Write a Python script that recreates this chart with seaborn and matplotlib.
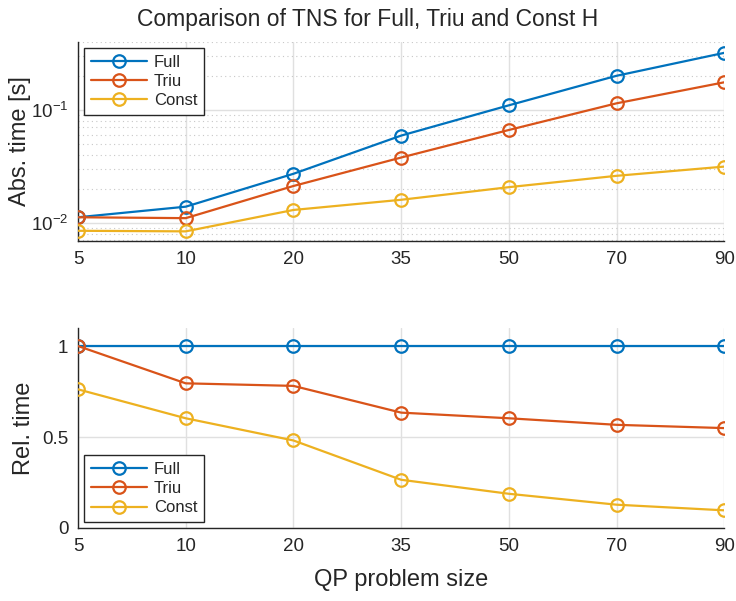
import numpy as np
import pandas as pd
import matplotlib
matplotlib.use("Agg")
import matplotlib.pyplot as plt
import seaborn as sns
from matplotlib.ticker import LogLocator, FixedLocator, NullFormatter

# QP problem sizes (categorical x axis)
sizes = ["5", "10", "20", "35", "50", "70", "90"]
methods = ["Full", "Triu", "Const"]

# absolute solve times [s]
abs_full = [0.0112, 0.0139, 0.0272, 0.0593, 0.110, 0.201, 0.321]
abs_triu = [0.0112, 0.0110, 0.0212, 0.0379, 0.0665, 0.1146, 0.176]
abs_const = [0.0085, 0.0084, 0.0130, 0.0160, 0.0207, 0.0261, 0.0315]

# times relative to the full Hessian
rel_full = [1.0, 1.0, 1.0, 1.0, 1.0, 1.0, 1.0]
rel_triu = [1.0, 0.795, 0.781, 0.634, 0.603, 0.567, 0.549]
rel_const = [0.762, 0.603, 0.481, 0.265, 0.188, 0.128, 0.097]

colors = ["#0072BD", "#D95319", "#EDB120"]
ink = "#262626"

sns.set_theme(style="white")
plt.rcParams["font.family"] = ["Liberation Sans", "DejaVu Sans"]
plt.rcParams["mathtext.fontset"] = "custom"
plt.rcParams["mathtext.rm"] = "Liberation Sans"
plt.rcParams["mathtext.it"] = "Liberation Sans:italic"
plt.rcParams["mathtext.bf"] = "Liberation Sans:bold"


def long_frame(series):
    rows = []
    for name, vals in zip(methods, series):
        for i, v in enumerate(vals):
            rows.append({"pos": i, "size": sizes[i], "method": name, "value": v})
    return pd.DataFrame(rows)


df_abs = long_frame([abs_full, abs_triu, abs_const])
df_rel = long_frame([rel_full, rel_triu, rel_const])

fig = plt.figure(figsize=(7.36, 6.01), dpi=100)
ax1 = fig.add_axes([0.106, 0.599, 0.878, 0.331])
ax2 = fig.add_axes([0.106, 0.1215, 0.878, 0.333])


def draw(ax, df):
    for name, c in zip(methods, colors):
        sub = df[df["method"] == name]
        sns.lineplot(data=sub, x="pos", y="value", ax=ax, color=c, label=name,
                     linewidth=1.6, marker="o", markersize=9,
                     markerfacecolor="none", markeredgecolor=c,
                     markeredgewidth=1.6, zorder=3)


def style(ax):
    ax.set_xlim(0, len(sizes) - 1)
    ax.xaxis.set_major_locator(FixedLocator(range(len(sizes))))
    ax.set_xticklabels(sizes)
    ax.set_xlabel("")
    for s in ["top", "right"]:
        ax.spines[s].set_visible(False)
    for s in ["left", "bottom"]:
        ax.spines[s].set_color(ink)
        ax.spines[s].set_linewidth(1.0)
    ax.tick_params(axis="both", which="both", direction="in", colors=ink,
                   labelsize=13.5, labelcolor=ink)
    ax.tick_params(axis="both", which="major", length=5, width=0.8, pad=7)
    ax.tick_params(axis="y", which="minor", length=3, width=0.6)
    ax.grid(True, which="major", color="#e0e0e0", linewidth=1.0, linestyle="-")
    ax.set_axisbelow(True)


def add_legend(ax, loc):
    leg = ax.legend(loc=loc, fontsize=12, frameon=True, fancybox=False,
                    framealpha=1, edgecolor=ink, handlelength=3.4,
                    borderaxespad=0.35, labelspacing=0.25, borderpad=0.4,
                    handletextpad=0.4)
    leg.get_frame().set_linewidth(1.0)
    for t in leg.get_texts():
        t.set_color(ink)


draw(ax1, df_abs)
ax1.set_yscale("log")
ax1.set_ylim(0.0069, 0.4)
style(ax1)
ax1.yaxis.set_major_locator(LogLocator(base=10, numticks=10))
ax1.yaxis.set_minor_locator(LogLocator(base=10, subs=np.arange(2, 10), numticks=20))
ax1.yaxis.set_minor_formatter(NullFormatter())
ax1.grid(True, which="minor", axis="y", color="#c8c8c8", linewidth=0.8, linestyle=(0, (1, 3)))
ax1.set_ylabel("Abs. time [s]", fontsize=17, color=ink, labelpad=0)
add_legend(ax1, "upper left")

draw(ax2, df_rel)
ax2.set_ylim(0, 1.1)
style(ax2)
ax2.yaxis.set_major_locator(FixedLocator([0, 0.5, 1]))
ax2.set_yticklabels(["0", "0.5", "1"])
ax2.set_ylabel("Rel. time", fontsize=17, color=ink, labelpad=5)
ax2.set_xlabel("QP problem size", fontsize=17, color=ink, labelpad=10)
add_legend(ax2, "lower left")

fig.text(0.5, 0.968, "Comparison of TNS for Full, Triu and Const H",
         ha="center", va="center", fontsize=16.5, color=ink)

fig.savefig("out.png", dpi=100, facecolor="white")
